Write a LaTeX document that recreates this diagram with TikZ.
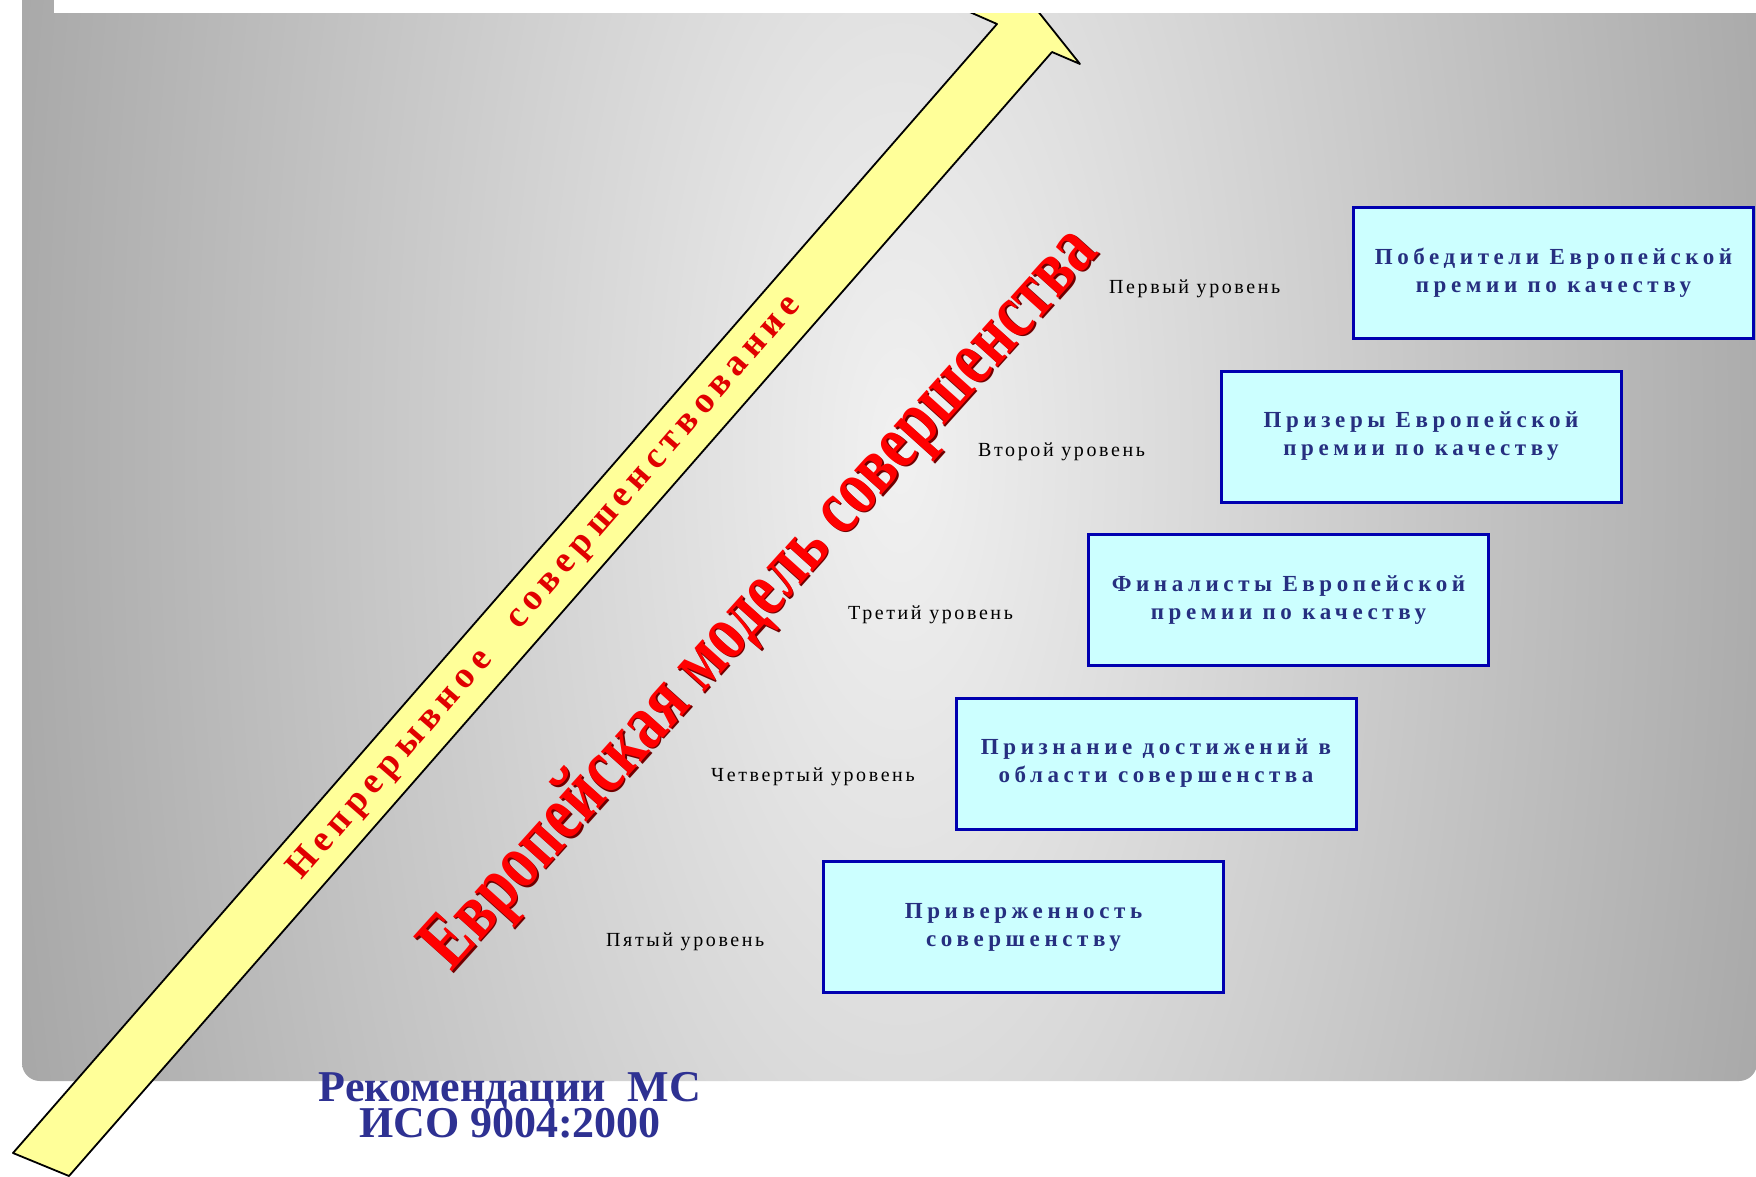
\documentclass[tikz,border=0pt]{standalone}
\usepackage{fontspec}
\setmainfont{Liberation Serif}
\newfontfamily\boxfont[LetterSpace=20]{Liberation Serif}
\newfontfamily\lvlfont[LetterSpace=13]{Liberation Serif}
\newfontfamily\arrfont[LetterSpace=17]{Liberation Serif}
\definecolor{panelA}{gray}{0.945}
\definecolor{panelB}{gray}{0.63}
\definecolor{panelC}{gray}{0.58}
\definecolor{arrowfill}{HTML}{FFFF99}
\definecolor{redtxt}{HTML}{FF0000}
\definecolor{redshadow}{HTML}{700000}
\definecolor{arrred}{HTML}{E00000}
\definecolor{boxfill}{HTML}{CCFFFF}
\definecolor{boxline}{HTML}{0000B0}
\definecolor{navy}{HTML}{262F80}
\definecolor{botnavy}{HTML}{2E3192}
\pgfdeclareradialshading{panelrad}{\pgfpoint{0bp}{0bp}}{color(0bp)=(panelA); color(25bp)=(panelB); color(35bp)=(panelC); color(50bp)=(panelC)}
\begin{document}
\begin{tikzpicture}[x=1pt,y=-1pt,
  arrowshape/.style={fill=arrowfill, draw=black, line width=1.8pt, line join=round},
  lvl/.style={inner sep=0pt, text=black, font=\lvlfont\fontsize{20}{22}\selectfont},
  lbox/.style={draw=boxline, line width=3pt, fill=boxfill, minimum width=400pt, minimum height=131pt,
    inner sep=0pt, anchor=north west, align=center, text=navy,
    font=\boxfont\bfseries\fontsize{23}{28}\selectfont},
  bot/.style={inner sep=0pt, text=botnavy, font=\bfseries\fontsize{44}{44}\selectfont, anchor=base},
  bigtxt/.style={rotate=48, yscale=1.3, inner sep=0pt, font=\bfseries\fontsize{61}{61}\selectfont}]
\useasboundingbox (0,0) rectangle (1756,1176);
\fill[white] (0,0) rectangle (1756,1176);
% gray panel with radial gradient
\begin{scope}
\clip[rounded corners=18pt] (22,-60) -- (22,1081) -- (1757,1081) -- (1757,-60) -- cycle;
\shade[shading=panelrad] (-100,-1920) rectangle (1900,2820);
\end{scope}
% yellow arrow
\draw[arrowshape] (13,1153) -- (69,1176) -- (1052,52) -- (1080,64) -- (1029,0) -- (1020,-20)
  -- (931,-5) -- (997,24) -- cycle;
% white title band
\fill[white] (54,-5) rectangle (1760,13);
% text along arrow
\node[rotate=49, inner sep=0pt, text=arrred, font=\arrfont\bfseries\fontsize{37}{37}\selectfont] (arrtxt)
  at (545,588) {Непрерывное\hspace{40pt}совершенствование};
% big model text
\node[bigtxt, text=redshadow] (modelsh) at (763.5,601.5) {Европейская модель совершенства};
\node[bigtxt, text=redtxt] (model) at (762,600) {Европейская модель совершенства};
% level labels
\node[lvl, anchor=west] (l1) at (1109,289) {Первый уровень};
\node[lvl, anchor=west] (l2) at (978,452) {Второй уровень};
\node[lvl, anchor=west] (l3) at (848,615) {Третий уровень};
\node[lvl, anchor=west] (l4) at (711,777) {Четвертый уровень};
\node[lvl, anchor=west] (l5) at (606,942) {Пятый уровень};
% boxes
\node[lbox] (b1) at (1352,206) {Победители Европейской\\премии по качеству};
\node[lbox] (b2) at (1219.5,369.5) {Призеры Европейской\\премии по качеству};
\node[lbox] (b3) at (1087,533) {Финалисты Европейской\\премии по качеству};
\node[lbox] (b4) at (954.5,696.5) {Признание достижений в\\области совершенства};
\node[lbox] (b5) at (822,860) {Приверженность\\совершенству};
% bottom text
\node[bot] (rec1) at (510,1101) {Рекомендации\ \ МС};
\node[bot] (rec2) at (510,1137) {ИСО 9004:2000};
\end{tikzpicture}
\end{document}
